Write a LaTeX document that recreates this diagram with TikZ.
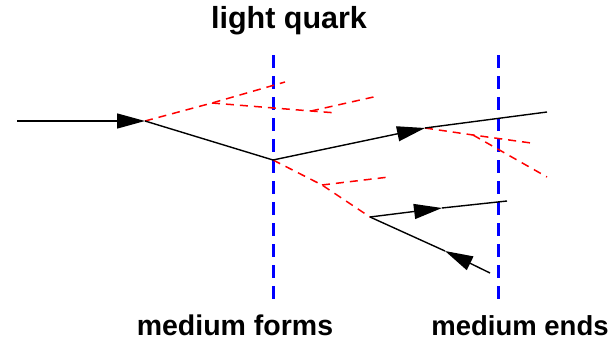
\documentclass[tikz,border=0pt]{standalone}
\usepackage{fontspec}
\setmainfont{Liberation Sans}
\usetikzlibrary{arrows.meta}
\begin{document}
\begin{tikzpicture}[x=1pt,y=-1pt,
  quark/.style={black,line width=1.4pt},
  tipped/.style={quark,-{Triangle[length=28pt,width=15pt]}},
  gluon/.style={red,line width=1.5pt,dash pattern=on 8pt off 6pt},
  medium/.style={blue,line width=3pt,dash pattern=on 13pt off 8pt},
  lbl/.style={font=\bfseries\fontsize{27.5}{30}\selectfont,anchor=base,inner sep=0pt}]
\useasboundingbox (0,0) rectangle (611,340);
% medium boundaries
\coordinate (m1t) at (273,55); \coordinate (m1b) at (273,300);
\coordinate (m2t) at (498,55); \coordinate (m2b) at (498,300);
\draw[medium] (m1t) -- (m1b);
\draw[medium] (m2t) -- (m2b);
% quark line vertices
\coordinate (A) at (17,121);
\coordinate (B) at (145,121);
\coordinate (C) at (273,160);
\coordinate (E) at (425,128);
\coordinate (D) at (547,112);
\coordinate (F) at (370,217);
\coordinate (Gt) at (442,208);
\coordinate (G) at (507,201);
\coordinate (H) at (490,273);
\coordinate (Ht) at (445,251);
% gluon points
\coordinate (g1) at (212,103);
\coordinate (g1a) at (285,82);
\coordinate (g2) at (311,111);
\coordinate (g2a) at (337,113);
\coordinate (g2b) at (378,96);
\coordinate (g3) at (322,185);
\coordinate (g3a) at (389,177);
\coordinate (g4) at (473,135);
\coordinate (g4a) at (531,143);
\coordinate (g4b) at (547,177);
% gluons
\draw[gluon] (B) -- (g1) -- (g1a);
\draw[gluon] (g1) -- (g2) -- (g2a);
\draw[gluon] (g2) -- (g2b);
\draw[gluon] (C) -- (g3) -- (F);
\draw[gluon] (g3) -- (g3a);
\draw[gluon] (E) -- (g4) -- (g4a);
\draw[gluon] (g4) -- (g4b);
% quarks
\draw[tipped] (A) -- (B);
\draw[quark] (B) -- (C);
\draw[tipped] (C) -- (E);
\draw[quark] (E) -- (D);
\draw[tipped] (F) -- (Gt);
\draw[quark] (Gt) -- (G);
\draw[tipped] (H) -- (Ht);
\draw[quark] (Ht) -- (F);
% labels
\node[lbl,font=\bfseries\fontsize{30.5}{33}\selectfont] (t1) at (289,28) {light quark};
\node[lbl,font=\bfseries\fontsize{28.5}{31}\selectfont] (t2) at (235,335) {medium forms};
\node[lbl] (t3) at (520,335) {medium ends};
\end{tikzpicture}
\end{document}
